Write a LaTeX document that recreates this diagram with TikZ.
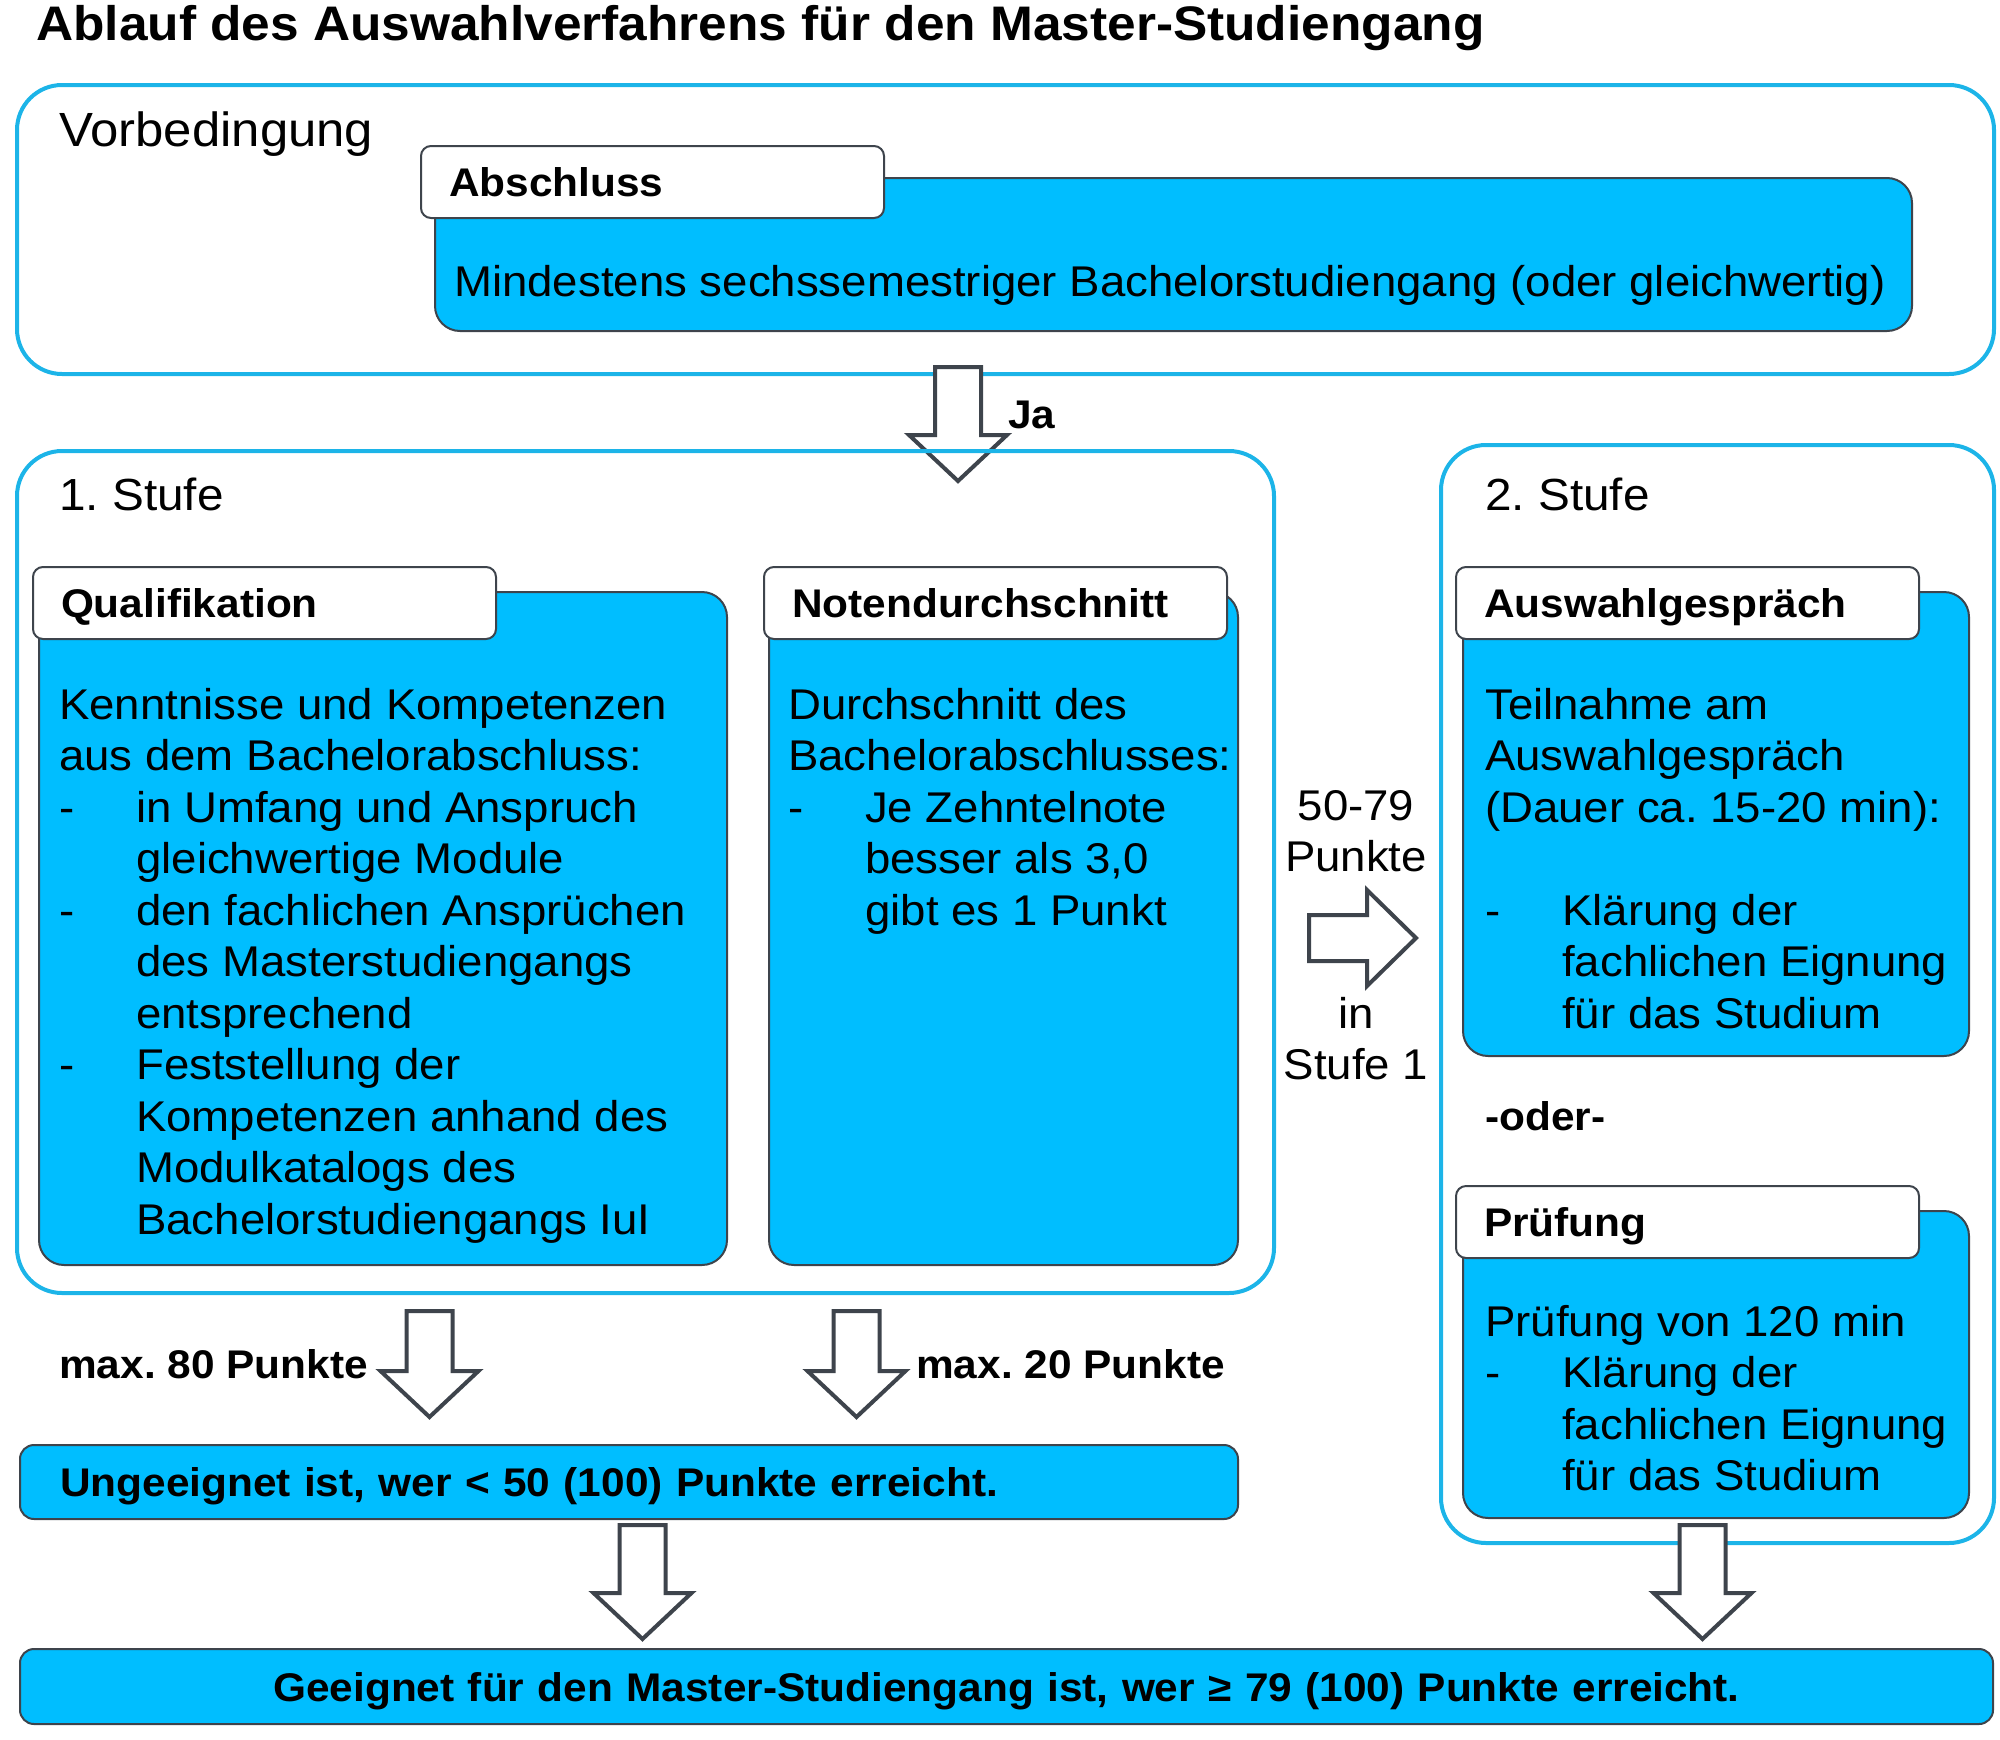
\documentclass[tikz,border=0pt]{standalone}
\usepackage{fontspec}
\setmainfont{Liberation Sans}[FakeStretch=1.06]
\usetikzlibrary{calc}
\frenchspacing

\definecolor{boxblue}{RGB}{0,190,255}
\definecolor{frameblue}{RGB}{28,180,232}
\definecolor{edgegray}{RGB}{62,68,76}

\newcommand{\strich}{\makebox[77pt][l]{-}}
\newcommand{\einzug}{\hspace*{77pt}}

% hollow block arrows between two named coordinates
\newcommand{\blockdown}[2]{%
  \draw[blockarrow] let \p1=(#1), \p2=(#2) in
    (\x1-23pt,\y1) -- (\x1+23pt,\y1) -- (\x1+23pt,\y2+46pt) -- (\x1+49pt,\y2+46pt)
    -- (\x2,\y2) -- (\x1-49pt,\y2+46pt) -- (\x1-23pt,\y2+46pt) -- cycle;}
\newcommand{\blockright}[2]{%
  \draw[blockarrow] let \p1=(#1), \p2=(#2) in
    (\x1,\y1+23pt) -- (\x2-49pt,\y1+23pt) -- (\x2-49pt,\y1+48pt) -- (\x2,\y2)
    -- (\x2-49pt,\y1-48pt) -- (\x2-49pt,\y1-23pt) -- (\x1,\y1-23pt) -- cycle;}

\tikzset{
  frame/.style={draw=frameblue, line width=4pt, rounded corners=45pt, inner sep=0pt, anchor=north west},
  bluebox/.style={draw=edgegray, fill=boxblue, line width=2pt, rounded corners=25pt, inner sep=0pt, anchor=north west},
  headbox/.style={draw=edgegray, fill=white, line width=2pt, rounded corners=10pt, anchor=north west,
    minimum height=72pt, inner xsep=28pt, inner ysep=0pt, text width=407pt, align=left,
    text height=29pt, text depth=0pt, font=\fontsize{40}{48}\selectfont\bfseries},
  bodytext/.style={anchor=north west, inner sep=0pt, align=left, font=\fontsize{43}{51.5}\selectfont},
  boldtext/.style={bodytext, font=\fontsize{40}{51.5}\selectfont\bfseries},
  stufelabel/.style={bodytext, font=\fontsize{45}{51.5}\selectfont},
  blockarrow/.style={draw=edgegray, fill=white, line width=4pt},
}

\begin{document}
\begin{tikzpicture}[x=1pt,y=-1pt]
  \useasboundingbox (0,0) rectangle (2000,1740);

  % Title
  \node[anchor=west, inner sep=0pt, font=\fontsize{48.5}{56}\selectfont\bfseries] (title) at (36,28)
    {Ablauf des Auswahlverfahrens für den Master-Studiengang};

  % Vorbedingung
  \node[frame, minimum width=1977pt, minimum height=289pt] (vorb) at (15,83) {};
  \node[stufelabel, font=\fontsize{48}{52}\selectfont] (vorbLabel) at (59,112) {Vorbedingung};
  \node[bluebox, minimum width=1477pt, minimum height=153pt] (abschlussBody) at (434,177) {};
  \node[headbox] (abschlussHead) at (420,145) {Abschluss};
  \node[bodytext] (abschlussText) at (454,265)
    {Mindestens sechssemestriger Bachelorstudiengang (oder gleichwertig)};

  % Ja arrow
  \coordinate (jaTop) at (958,367);
  \coordinate (jaTip) at (958,481);
  \blockdown{jaTop}{jaTip}
  \node[boldtext, anchor=west] (ja) at (1008,415) {Ja};

  % 1. Stufe
  \node[frame, minimum width=1257pt, minimum height=842pt] (stufeEins) at (15,449) {};
  \node[stufelabel] (stufeEinsLabel) at (59,478) {1. Stufe};

  \node[bluebox, minimum width=688pt, minimum height=673pt] (qualiBody) at (38,591) {};
  \node[headbox] (qualiHead) at (32,566) {Qualifikation};
  \node[bodytext] (qualiText) at (59,688)
    {Kenntnisse und Kompetenzen\\
     aus dem Bachelorabschluss:\\
     \strich in Umfang und Anspruch\\
     \einzug gleichwertige Module\\
     \strich den fachlichen Ansprüchen\\
     \einzug des Masterstudiengangs\\
     \einzug entsprechend\\
     \strich Feststellung der\\
     \einzug Kompetenzen anhand des\\
     \einzug Modulkatalogs des\\
     \einzug Bachelorstudiengangs IuI};

  \node[bluebox, minimum width=469pt, minimum height=673pt] (noteBody) at (768,591) {};
  \node[headbox] (noteHead) at (763,566) {Notendurchschnitt};
  \node[bodytext] (noteText) at (788,688)
    {Durchschnitt des\\
     Bachelorabschlusses:\\
     \strich Je Zehntelnote\\
     \einzug besser als 3,0\\
     \einzug gibt es 1 Punkt};

  % Uebergang zur 2. Stufe
  \node[bodytext, anchor=north, align=center] (punkteOben) at (1356,790) {50-79\\Punkte};
  \coordinate (rechtsStart) at (1309,938);
  \coordinate (rechtsTip) at (1416,938);
  \blockright{rechtsStart}{rechtsTip}
  \node[bodytext, anchor=north, align=center] (punkteUnten) at (1356,997) {in\\Stufe 1};

  % 2. Stufe
  \node[frame, minimum width=553pt, minimum height=1098pt] (stufeZwei) at (1439,443) {};
  \node[stufelabel] (stufeZweiLabel) at (1485,478) {2. Stufe};

  \node[bluebox, minimum width=506pt, minimum height=464pt] (gespraechBody) at (1462,591) {};
  \node[headbox] (gespraechHead) at (1455,566) {Auswahlgespräch};
  \node[bodytext] (gespraechText) at (1485,688)
    {Teilnahme am\\
     Auswahlgespräch\\
     (Dauer ca. 15-20 min):\\
     \mbox{}\\
     \strich Klärung der\\
     \einzug fachlichen Eignung\\
     \einzug für das Studium};

  \node[boldtext] (oder) at (1485,1101) {-oder-};

  \node[bluebox, minimum width=506pt, minimum height=307pt] (pruefungBody) at (1462,1210) {};
  \node[headbox] (pruefungHead) at (1455,1185) {Prüfung};
  \node[bodytext] (pruefungText) at (1485,1305)
    {Prüfung von 120 min\\
     \strich Klärung der\\
     \einzug fachlichen Eignung\\
     \einzug für das Studium};

  % Punkte aus Stufe 1
  \coordinate (achtzigTop) at (429.5,1311);
  \coordinate (achtzigTip) at (429.5,1417);
  \blockdown{achtzigTop}{achtzigTip}
  \node[boldtext, anchor=west] (achtzig) at (59,1364) {max. 80 Punkte};

  \coordinate (zwanzigTop) at (856.5,1311);
  \coordinate (zwanzigTip) at (856.5,1417);
  \blockdown{zwanzigTop}{zwanzigTip}
  \node[boldtext, anchor=west] (zwanzig) at (916,1364) {max. 20 Punkte};

  % Ergebnis
  \node[bluebox, rounded corners=14pt, minimum width=1218pt, minimum height=74pt, inner xsep=40pt,
    text width=1138pt, align=left, text height=29pt, text depth=0pt,
    font=\fontsize{40}{48}\selectfont\bfseries] (ungeeignet) at (19,1444)
    {Ungeeignet ist, wer < 50 (100) Punkte erreicht.};

  \coordinate (linksTop) at (642.5,1525);
  \coordinate (linksTip) at (642.5,1639);
  \blockdown{linksTop}{linksTip}
  \coordinate (rechtsTop) at (1702.5,1525);
  \coordinate (rechtsUnten) at (1702.5,1639);
  \blockdown{rechtsTop}{rechtsUnten}

  \node[bluebox, rounded corners=14pt, minimum width=1973pt, minimum height=75pt,
    text width=1933pt, align=center, text height=29pt, text depth=0pt,
    font=\fontsize{40}{48}\selectfont\bfseries] (geeignet) at (19,1648)
    {Geeignet für den Master-Studiengang ist, wer ≥ 79 (100) Punkte erreicht.};
\end{tikzpicture}
\end{document}
